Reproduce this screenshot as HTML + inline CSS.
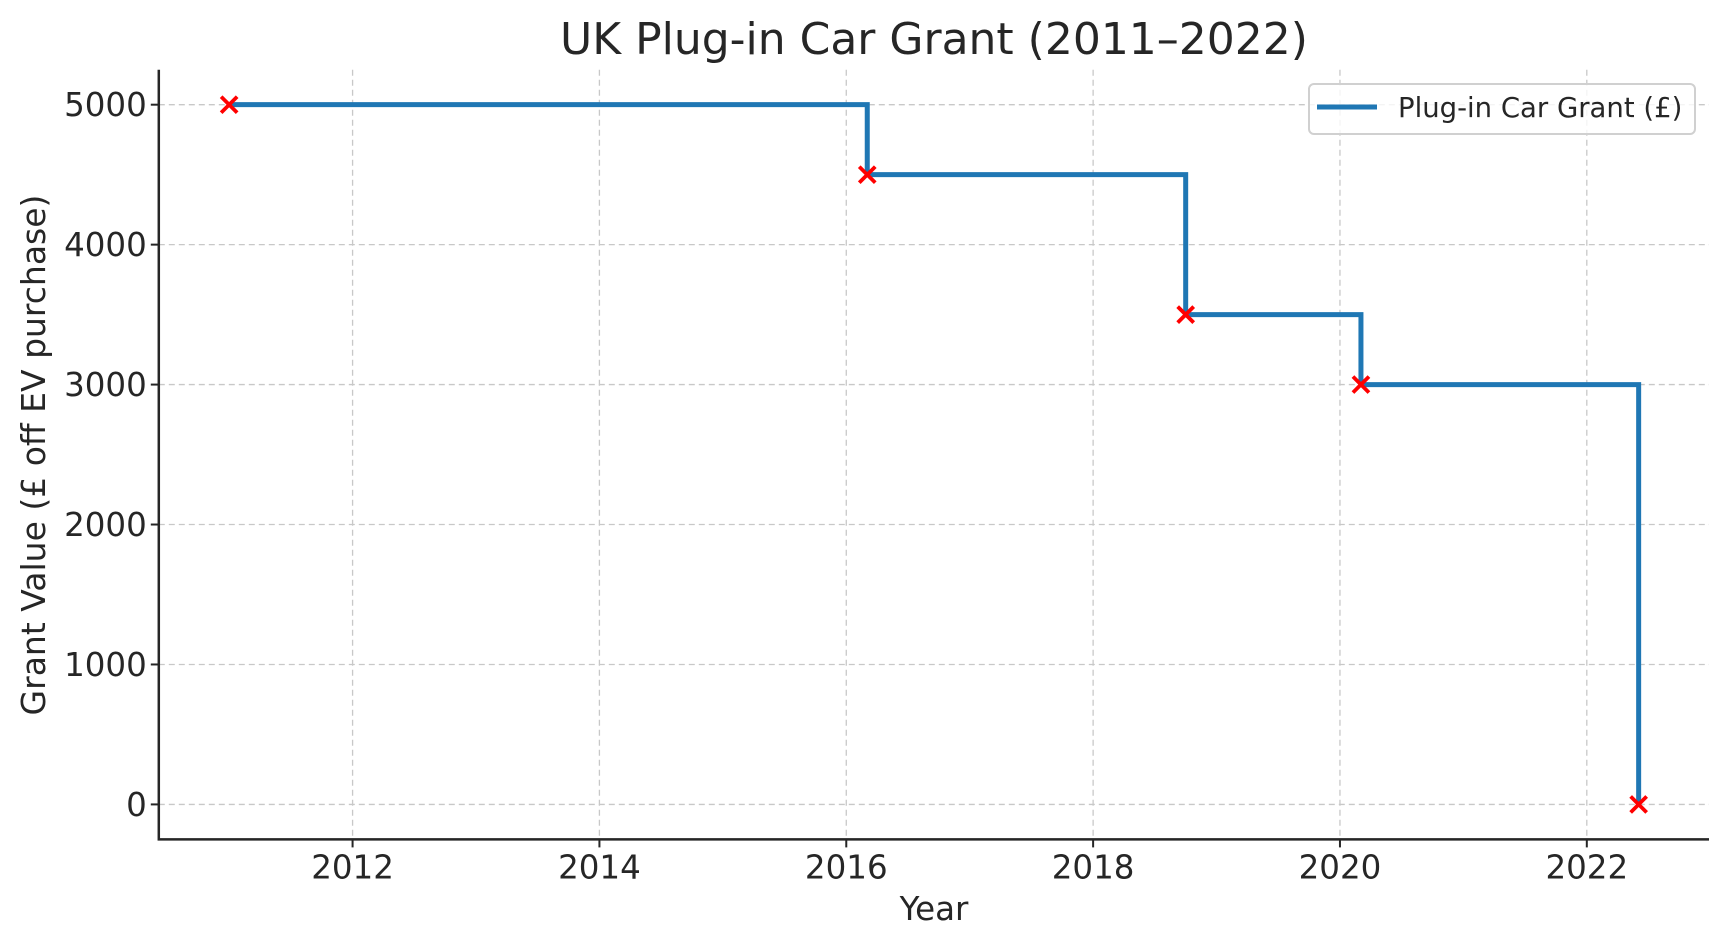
<!DOCTYPE html>
<html><head><meta charset="utf-8"><style>
body{margin:0;background:#fff;}
svg text{font-family:"DejaVu Sans","Liberation Sans",sans-serif;fill:#262626;}
</style></head><body>
<svg width="1728" height="947" viewBox="0 0 1728 947" xmlns="http://www.w3.org/2000/svg">
<g id="grid"></g>
<g id="axes"></g>
<g id="series"></g>
<text x="934" y="54" font-size="44" text-anchor="middle" fill="#333">UK Plug-in Car Grant (2011–2022)</text>
<text x="934" y="920" font-size="32.5" text-anchor="middle">Year</text>
<text transform="translate(45,455) rotate(-90)" font-size="33" text-anchor="middle">Grant Value (£ off EV purchase)</text>
<g>
<rect x="1309" y="84" width="386" height="50" rx="5" fill="#fff" fill-opacity="0.8" stroke="#d0d0d0" stroke-width="2"/>
<line x1="1317" y1="107" x2="1377" y2="107" stroke="#1f77b4" stroke-width="5"/>
<text x="1398" y="117" font-size="27.5" fill="#333">Plug-in Car Grant (£)</text>
</g>
</svg>
<script>
const years=[2011.0,2016.17,2018.75,2020.17,2022.42];
const grants=[5000,4500,3500,3000,0];
const xTicks=[2012,2014,2016,2018,2020,2022];
const yTicks=[0,1000,2000,3000,4000,5000];
const L=158.8,R=1709,T=69.7,B=839.4;
const x0=2010.43,x1=2022.99,y0=-250,y1=5250;
const X=v=>L+(v-x0)/(x1-x0)*(R-L);
const Y=v=>B-(v-y0)/(y1-y0)*(B-T);
const NS='http://www.w3.org/2000/svg';
function mk(p,t,a){const e=document.createElementNS(NS,t);for(const k in a)e.setAttribute(k,a[k]);p.appendChild(e);return e;}
const grid=document.getElementById('grid'),axes=document.getElementById('axes'),series=document.getElementById('series');
xTicks.forEach(t=>{
 const g=mk(grid,'line',{x1:X(t),x2:X(t),y1:T,y2:B,stroke:'#c8c8c8','stroke-width':1.3,'stroke-dasharray':'6,4'});
 
 
 const tk=mk(axes,'line',{x1:X(t),x2:X(t),y1:B,y2:B+8,stroke:'#262626','stroke-width':2});
 
 
 const tx=mk(axes,'text',{x:X(t),y:B+39,'font-size':32.5,'text-anchor':'middle'});tx.textContent=t;
 
 
});
yTicks.forEach(t=>{
 const g=mk(grid,'line',{x1:L,x2:R,y1:Y(t),y2:Y(t),stroke:'#c8c8c8','stroke-width':1.3,'stroke-dasharray':'6,4'});
 
 
 const tk=mk(axes,'line',{x1:L-8,x2:L,y1:Y(t),y2:Y(t),stroke:'#262626','stroke-width':2});
 
 
 const tx=mk(axes,'text',{x:L-12,y:Y(t)+11.5,'font-size':32.5,'text-anchor':'end'});tx.textContent=t;
 
 
});
const sp=mk(axes,'path',{d:`M${L},${T} V${B} H${R}`,fill:'none',stroke:'#262626','stroke-width':2.5});


let d=`M${X(years[0])},${Y(grants[0])}`;
for(let i=1;i<years.length;i++){d+=` H${X(years[i])} V${Y(grants[i])}`;}
const ln=mk(series,'path',{d:d,fill:'none',stroke:'#1f77b4','stroke-width':5});


years.forEach((yr,i)=>{
 const cx=X(yr),cy=Y(grants[i]),s=8;
 const m=mk(series,'path',{d:`M${cx-s},${cy-s}L${cx+s},${cy+s}M${cx-s},${cy+s}L${cx+s},${cy-s}`,stroke:'#ff0000','stroke-width':3.8});
 
 
});
</script>
</body></html>
